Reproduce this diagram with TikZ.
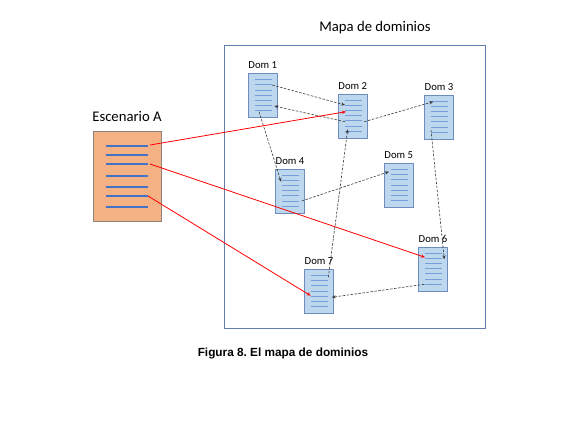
\documentclass[tikz,border=0pt]{standalone}
\usepackage{fontspec}
\usetikzlibrary{arrows.meta,calc,positioning}
\newfontfamily\domfont{Carlito}
\newfontfamily\capfont{Liberation Sans}
\definecolor{docfill}{RGB}{189,215,238}
\definecolor{docedge}{RGB}{110,140,190}
\definecolor{docline}{RGB}{120,158,218}
\definecolor{escfill}{RGB}{244,177,131}
\definecolor{escedge}{RGB}{140,130,125}
\definecolor{escline}{RGB}{68,114,196}
\definecolor{mapedge}{RGB}{100,125,175}
\definecolor{linkgray}{RGB}{55,55,55}
\frenchspacing

\begin{document}
\begin{tikzpicture}[x=1pt,y=-1pt,>={Stealth[length=4pt,width=3.2pt]},
  doc/.style={draw=docedge,fill=docfill,line width=.8pt,minimum width=29pt,
   minimum height=44pt,inner sep=0pt},
  doclabel/.style={font=\domfont\fontsize{10.7}{12}\selectfont,inner sep=0pt,above=4pt},
  link/.style={->,linkgray,line width=.6pt,dash pattern=on 2.5pt off 1.5pt},
  hit/.style={->,red,line width=.8pt}]
 \useasboundingbox (0,0) rectangle (566,426);
 % map frame and titles
 \node[draw=mapedge,line width=.8pt,minimum width=261pt,minimum height=283pt,
  inner sep=0pt] (mapa) at (354.5,186.5) {};
 \node[font=\domfont\fontsize{14.7}{17}\selectfont,anchor=base,inner sep=0pt]
  (maptitle) at (375,31) {Mapa de dominios};
 \node[font=\capfont\bfseries\fontsize{11.8}{14}\selectfont,anchor=base,inner sep=0pt]
  (caption) at (283,356) {Figura 8. El mapa de dominios};
 % scenario
 \node[draw=escedge,fill=escfill,line width=.6pt,minimum width=68pt,
  minimum height=90pt,inner sep=0pt] (escA) at (127,176) {};
 \node[font=\domfont\fontsize{14.7}{17}\selectfont,inner sep=0pt,above=9pt]
  (esclabel) at (escA.north) {Escenario A};
 \foreach \dy in {-30,-21,-12,0,11,20,31}
  \draw[escline,line width=1.5pt] ($(escA.center)+(-21,\dy)$) -- ++(42,0);
 % domain documents
 \foreach \n/\x/\y in {1/262.8/95.5,2/352.8/116,3/439/117,4/290/191,
   5/398.8/185.3,6/433/269,7/319/291.3}{
  \node[doc] (dom\n) at (\x,\y) {};
  \node[doclabel] (lab\n) at (dom\n.north) {Dom \n};
  \foreach \k in {0,...,6}
   \draw[docline,line width=.7pt] ($(dom\n.center)+(-8,{-16+5.2*\k})$) -- ++(17,0);
 }
 % links between domains
 \draw[link] ($(dom1.center)+(9.5,-10.5)$) -- ($(dom2.center)+(-7.8,-11)$);
 \draw[link] ($(dom2.center)+(-7.8,5.7)$) -- ($(dom1.center)+(11.5,10.5)$);
 \draw[link] ($(dom2.center)+(11.5,5.7)$) -- ($(dom3.center)+(-5.7,-15.3)$);
 \draw[link] ($(dom1.center)+(-3.8,16.2)$) -- ($(dom4.center)+(-9,-9.3)$);
 \draw[link] ($(dom4.center)+(11.7,10)$) -- ($(dom5.center)+(-9.8,-13.6)$);
 \draw[link] ($(dom7.center)+(9.3,-14)$) -- ($(dom2.center)+(-5.1,13.3)$);
 \draw[link] ($(dom3.center)+(-8,13)$) -- ($(dom6.center)+(11.3,-9.7)$);
 \draw[link] ($(dom6.center)+(-8.7,15.3)$) -- ($(dom7.center)+(12.7,6)$);
 % scenario to domains
 \draw[hit] ($(escA.center)+(23,-31)$) -- ($(dom2.center)+(-6.8,-4.3)$);
 \draw[hit] ($(escA.center)+(23,-12)$) -- ($(dom6.center)+(-8,-11.7)$);
 \draw[hit] ($(escA.center)+(21,20)$) -- ($(dom7.center)+(-8.3,4.4)$);
\end{tikzpicture}
\end{document}
